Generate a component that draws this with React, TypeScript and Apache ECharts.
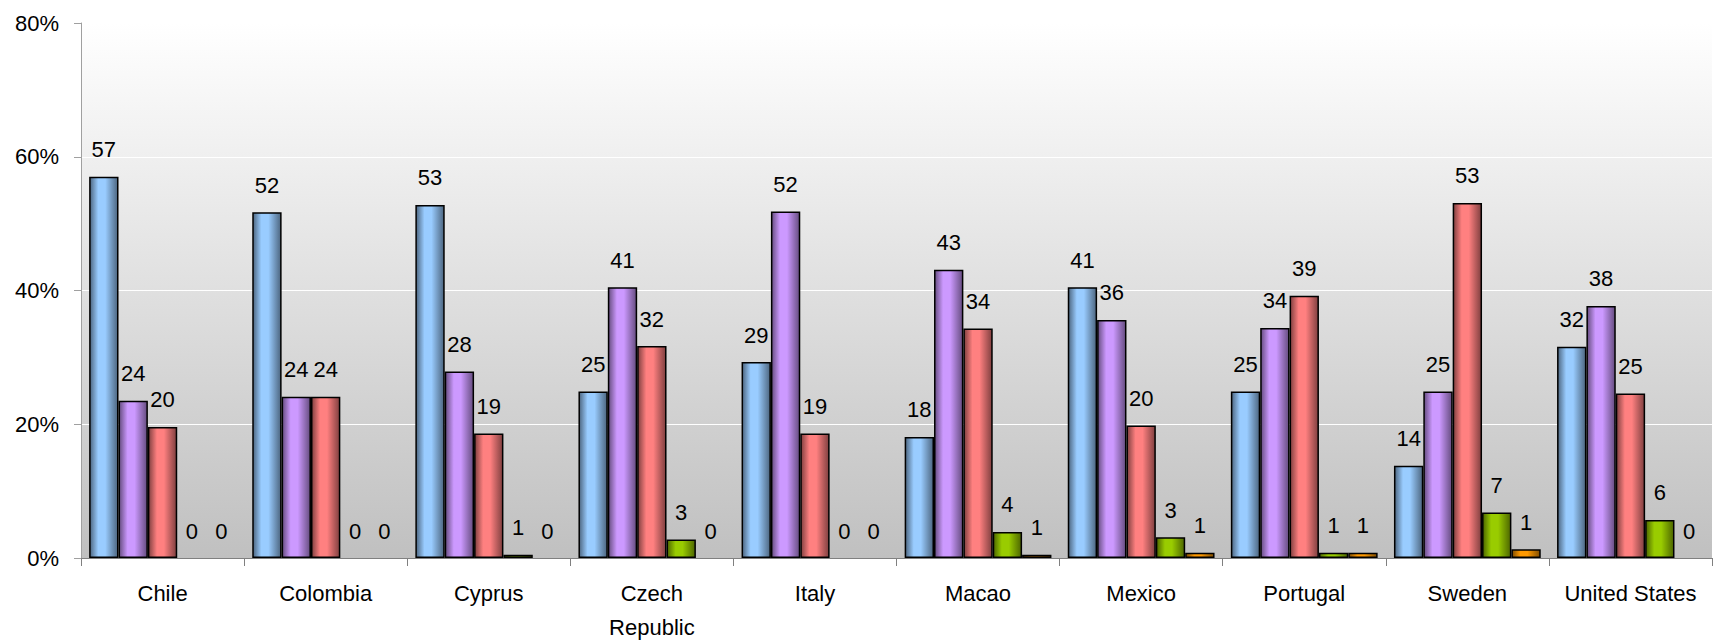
import React, { useEffect, useRef } from "react";
import * as echarts from "echarts";

const categories = ["Chile", "Colombia", "Cyprus", "Czech\nRepublic", "Italy", "Macao", "Mexico", "Portugal", "Sweden", "United States"];
const series1 = [57.0, 51.7, 52.8, 24.9, 29.3, 18.1, 40.5, 24.9, 13.8, 31.6];
const series2 = [23.5, 24.1, 27.9, 40.5, 51.8, 43.1, 35.6, 34.4, 24.9, 37.7];
const series3 = [19.6, 24.1, 18.6, 31.7, 18.6, 34.3, 19.8, 39.2, 53.1, 24.6];
const series4 = [0, 0, 0.5, 2.75, 0, 3.9, 3.1, 0.8, 6.8, 5.7];
const series5 = [0, 0, 0, 0, 0, 0.5, 0.8, 0.8, 1.3, 0];
const yTicks = [0, 20, 40, 60, 80];

const palette = [
  { light: "#99ccff", dark: "#4d6680" },
  { light: "#cc99ff", dark: "#664d80" },
  { light: "#ff8080", dark: "#804040" },
  { light: "#99cc00", dark: "#4d6600" },
  { light: "#ff9900", dark: "#804d00" },
];

const FONT = "'Liberation Sans', Arial, sans-serif";

export default function App() {
  const ref = useRef<HTMLDivElement>(null);
  useEffect(() => {
    if (!ref.current) return;
    const chart = echarts.init(ref.current, undefined, { renderer: "svg" });
    const all = [series1, series2, series3, series4, series5];
    const series = all.map((data, i) => ({
      type: "bar",
      data: data.map((v) => (v === 0 ? { value: v, itemStyle: { borderWidth: 0 } } : v)),
      barGap: "0%",
      barCategoryGap: "10%",
      itemStyle: {
        color: new echarts.graphic.LinearGradient(0, 0, 1, 0, [
          { offset: 0, color: palette[i].dark },
          { offset: 0.3, color: palette[i].light },
          { offset: 0.55, color: palette[i].light },
          { offset: 1, color: palette[i].dark },
        ]),
        borderColor: "#000",
        borderWidth: 1.5,
      },
      label: {
        show: true,
        position: "top",
        distance: 16,
        color: "#000",
        fontSize: 22,
        fontFamily: FONT,
        formatter: (p: any) => String(Math.round(p.value)),
      },
    }));
    chart.setOption({
      animation: false,
      backgroundColor: "#fff",
      grid: {
        left: 81,
        right: 5,
        top: 23,
        bottom: 81,
        show: true,
        borderWidth: 0,
        backgroundColor: new echarts.graphic.LinearGradient(0, 0, 0, 1, [
          { offset: 0, color: "#ffffff" },
          { offset: 1, color: "#c0c0c0" },
        ]),
      },
      xAxis: {
        type: "category",
        data: categories,
        axisLine: { lineStyle: { color: "#808080", width: 1 } },
        axisTick: { show: true, length: 8, lineStyle: { color: "#808080" } },
        axisLabel: {
          color: "#000",
          fontSize: 22,
          fontFamily: FONT,
          margin: 18,
          lineHeight: 34,
          interval: 0,
        },
      },
      yAxis: {
        type: "value",
        min: yTicks[0],
        max: yTicks[yTicks.length - 1],
        interval: 20,
        axisLine: { show: true, lineStyle: { color: "#a0a0a0", width: 1 } },
        axisTick: { show: true, length: 7, lineStyle: { color: "#a0a0a0" } },
        axisLabel: {
          color: "#000",
          fontSize: 22,
          fontFamily: FONT,
          margin: 22,
          formatter: "{value}%",
        },
        splitLine: { show: true, lineStyle: { color: "#ffffff", width: 1 } },
      },
      series,
    });
    return () => chart.dispose();
  }, []);
  return (
    <div
      ref={ref}
      style={{ position: "fixed", left: 0, top: 0, width: 1717, height: 644 }}
    />
  );
}
